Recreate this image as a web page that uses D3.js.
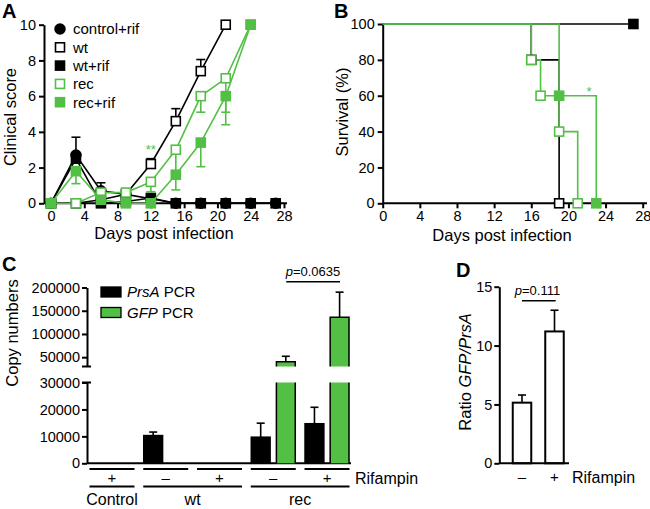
<!DOCTYPE html>
<html>
<head>
<meta charset="utf-8">
<script src="https://cdn.jsdelivr.net/npm/d3@7"></script>
<style>
body { margin: 0; background: #fff; }
svg { font-family: "Liberation Sans", Arial, Helvetica, sans-serif; }
</style>
</head>
<body>
<svg id="fig" width="650" height="509"></svg>
<script>
const GREEN = "#52bf45";

// ---- panel A : clinical score ----
const days = [0, 3, 6, 9, 12, 15, 18, 21, 24, 27];
const ctrlRif    = [0, 2.7, 0.7, 0.5, 0.25, 0, 0, 0, 0, 0];
const ctrlRifErr = [null, 3.7, 1.15, null, null, null, null, null, null, null];
const wt         = [0, 0, 0.2, 0.5, 2.2, 4.6, 7.4, 10];
const wtErr      = [null, null, null, null, 2.5, 5.3, 8.05, null];
const wtRif      = [0, 2.5, 0, 0.1, 0.3, 0, 0, 0, 0, 0];
const wtRifErr   = [null, null, null, null, 0.5, null, null, null, null, null];
const rec        = [0, 0, 0.6, 0.6, 1.2, 3.0, 6.0, 7.0, 10];
const recErr     = [null, null, null, null, 0.65, 1.7, 5.1, 5.1, null];
const recRif     = [0, 1.8, 0.2, 0, 0, 1.6, 3.4, 6.0, 10];
const recRifErr  = [null, 1.1, null, null, null, 0.75, 2.05, 4.4, null];
const scoreTicks = [0, 2, 4, 6, 8, 10];
const dayTicks = [0, 4, 8, 12, 16, 20, 24, 28];

// ---- panel B : survival (%) ----
const survRifDays = [0, 27],            survRif = [100, 100];
const survWtDays = [0, 16, 19],         survWt = [100, 80, 0];
const survRecDays = [0, 16, 17, 19, 21], survRec = [100, 80, 60, 40, 0];
const survRecRifDays = [0, 19, 23],     survRecRif = [100, 60, 0];
const survTicks = [0, 20, 40, 60, 80, 100];

// ---- panel C : copy numbers ----
const cRifampin = ["+", "–", "+", "–", "+"];
const cStrain = ["Control", "wt", "wt", "rec", "rec"];
const prsA    = [0, 10300, 0, 9700, 14700];
const prsAErr = [null, 11600, null, 14900, 20800];
const gfp     = [0, 0, 0, 40000, 136000];
const gfpErr  = [null, null, null, 52000, 190000];
const lowTicks = [0, 10000, 20000, 30000];
const highTicks = [50000, 100000, 150000, 200000];

// ---- panel D : ratio GFP/PrsA ----
const dRifampin = ["–", "+"];
const ratio = [5.15, 11.2];
const ratioErr = [5.8, 13.0];
const ratioTicks = [0, 5, 10, 15];

const svg = d3.select("#fig");

function styleAxis(g) {
    g.selectAll("path, line").attr("stroke", "#000").attr("stroke-width", 2);
    g.selectAll("text").attr("font-size", "14.5px").attr("fill", "#000")
        .attr("font-family", "Liberation Sans, Arial, sans-serif");
}

function panelLabel(t, x, y) {
    svg.append("text").text(t).attr("x", x).attr("y", y)
        .attr("font-size", "20px").attr("font-weight", "bold");
}

function marker(g, shape, filled, color, x, y) {
    if (shape === "circle") {
        g.append("circle").attr("cx", x).attr("cy", y).attr("r", 5)
            .attr("fill", filled ? color : "#fff").attr("stroke", color).attr("stroke-width", 1.5);
    } else {
        g.append("rect").attr("x", x - 4.5).attr("y", y - 4.5).attr("width", 9).attr("height", 9)
            .attr("fill", filled ? color : "#fff").attr("stroke", color).attr("stroke-width", 1.6);
    }
}

// =================== A ===================
panelLabel("A", 2, 18);
const xA = d3.scaleLinear().domain([0, 28]).range([51, 284]);
const yA = d3.scaleLinear().domain([0, 10]).range([203.3, 24.7]);

svg.append("g").attr("transform", "translate(44,0)")
    .call(d3.axisLeft(yA).tickValues(scoreTicks).tickSize(5).tickPadding(3).tickSizeOuter(0))
    .call(styleAxis);
const gxA = svg.append("g").attr("transform", "translate(0,203.3)")
    .call(d3.axisBottom(xA).tickValues(dayTicks).tickSize(5).tickPadding(2).tickSizeOuter(0))
    .call(styleAxis);
gxA.select(".domain").remove();
svg.append("line").attr("x1", 44).attr("x2", 287).attr("y1", 203.3).attr("y2", 203.3)
    .attr("stroke", "#000").attr("stroke-width", 2);

svg.append("text").text("Clinical score").attr("transform", "translate(10,117) rotate(-90)")
    .attr("text-anchor", "middle").attr("dy", "0.35em").attr("font-size", "16.5px");
svg.append("text").text("Days post infection").attr("x", 164).attr("y", 239)
    .attr("text-anchor", "middle").attr("font-size", "16.5px");

const seriesA = [
    { name: "control+rif", y: ctrlRif, err: ctrlRifErr, color: "#000", shape: "circle", filled: true },
    { name: "wt", y: wt, err: wtErr, color: "#000", shape: "square", filled: false },
    { name: "wt+rif", y: wtRif, err: wtRifErr, color: "#000", shape: "square", filled: true },
    { name: "rec", y: rec, err: recErr, color: GREEN, shape: "square", filled: false },
    { name: "rec+rif", y: recRif, err: recRifErr, color: GREEN, shape: "square", filled: true }
];

const lineA = d3.line().x(d => xA(d[0])).y(d => yA(d[1]));
seriesA.forEach(function(s) {
    const g = svg.append("g");
    const pts = s.y.map((v, i) => [days[i], v]);
    g.append("path").attr("d", lineA(pts)).attr("fill", "none")
        .attr("stroke", s.color).attr("stroke-width", 1.6);
    s.err.forEach(function(e, i) {
        if (e === null) return;
        const x = xA(days[i]);
        g.append("line").attr("x1", x).attr("x2", x).attr("y1", yA(s.y[i])).attr("y2", yA(e))
            .attr("stroke", s.color).attr("stroke-width", 1.6);
        g.append("line").attr("x1", x - 4.5).attr("x2", x + 4.5).attr("y1", yA(e)).attr("y2", yA(e))
            .attr("stroke", s.color).attr("stroke-width", 1.6);
    });
    pts.forEach(p => marker(g, s.shape, s.filled, s.color, xA(p[0]), yA(p[1])));
});

svg.append("text").text("**").attr("x", xA(12)).attr("y", yA(2.75)).attr("text-anchor", "middle")
    .attr("font-size", "13px").attr("fill", GREEN);

// legend A
const legA = svg.append("g");
seriesA.forEach(function(s, i) {
    const y = 29 + i * 18.3;
    marker(legA, s.shape, s.filled, s.color, 60, y);
    legA.append("text").text(s.name).attr("x", 73).attr("y", y).attr("dy", "0.36em")
        .attr("font-size", "15px");
});

// =================== B ===================
panelLabel("B", 334, 18);
const xB = d3.scaleLinear().domain([0, 28]).range([382.7, 642.7]);
const yB = d3.scaleLinear().domain([0, 100]).range([203.3, 24]);

svg.append("g").attr("transform", "translate(382.7,0)")
    .call(d3.axisLeft(yB).tickValues(survTicks).tickSize(5).tickPadding(3).tickSizeOuter(0))
    .call(styleAxis);
const gxB = svg.append("g").attr("transform", "translate(0,203.3)")
    .call(d3.axisBottom(xB).tickValues(dayTicks).tickSize(5).tickPadding(2).tickSizeOuter(0))
    .call(styleAxis);
gxB.select(".domain").remove();
svg.append("line").attr("x1", 382.7).attr("x2", 647).attr("y1", 203.3).attr("y2", 203.3)
    .attr("stroke", "#000").attr("stroke-width", 2);

svg.append("text").text("Survival (%)").attr("transform", "translate(342,112) rotate(-90)")
    .attr("text-anchor", "middle").attr("dy", "0.35em").attr("font-size", "16.5px");
svg.append("text").text("Days post infection").attr("x", 502).attr("y", 241)
    .attr("text-anchor", "middle").attr("font-size", "16.5px");

const seriesB = [
    { d: survRifDays, y: survRif, color: "#000", shape: "square", filled: true },
    { d: survWtDays, y: survWt, color: "#000", shape: "square", filled: false },
    { d: survRecDays, y: survRec, color: GREEN, shape: "square", filled: false },
    { d: survRecRifDays, y: survRecRif, color: GREEN, shape: "square", filled: true }
];
const lineB = d3.line().x(d => xB(d[0])).y(d => yB(d[1])).curve(d3.curveStepAfter);
seriesB.forEach(function(s) {
    const pts = s.d.map((v, i) => [v, s.y[i]]);
    svg.append("path").attr("d", lineB(pts)).attr("fill", "none")
        .attr("stroke", s.color).attr("stroke-width", 1.6);
});
seriesB.forEach(function(s) {
    const g = svg.append("g");
    s.d.forEach(function(v, i) {
        if (i === 0) return;
        marker(g, s.shape, s.filled, s.color, xB(v), yB(s.y[i]));
    });
});
svg.append("text").text("*").attr("x", 589).attr("y", 96).attr("text-anchor", "middle")
    .attr("font-size", "13px").attr("fill", GREEN);

// =================== C ===================
panelLabel("C", 2, 271);
const axC = 87;
const yLow = d3.scaleLinear().domain([0, 30000]).range([463.3, 382.5]);
const yHigh = d3.scaleLinear().domain([30000, 200000]).range([366.5, 287.5]);
const xC = d3.scaleBand().domain(d3.range(cRifampin.length)).range([85.1, 353.9]);
const inner = d3.scaleBand().domain(["prsA", "gfp"]).range([-22, 22]).paddingInner(0.25);
const cx = i => xC(i) + xC.bandwidth() / 2;

svg.append("g").attr("transform", "translate(" + axC + ",0)")
    .call(d3.axisLeft(yLow).tickValues(lowTicks).tickFormat(d3.format("d")).tickSize(5).tickPadding(2).tickSizeOuter(0))
    .call(styleAxis);
svg.append("g").attr("transform", "translate(" + axC + ",0)")
    .call(d3.axisLeft(yHigh).tickValues(highTicks).tickFormat(d3.format("d")).tickSize(5).tickPadding(2).tickSizeOuter(0))
    .call(styleAxis);
// break caps
[yLow(30000), yHigh(30000)].forEach(function(y) {
    svg.append("line").attr("x1", axC - 5).attr("x2", axC + 4).attr("y1", y).attr("y2", y)
        .attr("stroke", "#000").attr("stroke-width", 2);
});
svg.append("line").attr("x1", axC).attr("x2", 351).attr("y1", yLow(0)).attr("y2", yLow(0))
    .attr("stroke", "#000").attr("stroke-width", 2);

svg.append("text").text("Copy numbers").attr("transform", "translate(12,333) rotate(-90)")
    .attr("text-anchor", "middle").attr("dy", "0.35em").attr("font-size", "16.5px");

function drawBar(x, w, v, e, fill) {
    if (v <= 0) return;
    if (v <= 30000) {
        svg.append("rect").attr("x", x).attr("y", yLow(v)).attr("width", w)
            .attr("height", yLow(0) - yLow(v)).attr("fill", fill)
            .attr("stroke", "#000").attr("stroke-width", 1.5);
    } else {
        svg.append("rect").attr("x", x).attr("y", yLow(30000)).attr("width", w)
            .attr("height", yLow(0) - yLow(30000)).attr("fill", fill);
        svg.append("path").attr("d", "M" + x + "," + yLow(0) + "V" + yLow(30000) + "M" + (x + w) + "," + yLow(30000) + "V" + yLow(0))
            .attr("stroke", "#000").attr("stroke-width", 1.5).attr("fill", "none");
        svg.append("rect").attr("x", x).attr("y", yHigh(v)).attr("width", w)
            .attr("height", yHigh(30000) - yHigh(v)).attr("fill", fill);
        svg.append("path").attr("d", "M" + x + "," + yHigh(30000) + "V" + yHigh(v) + "H" + (x + w) + "V" + yHigh(30000))
            .attr("stroke", "#000").attr("stroke-width", 1.5).attr("fill", "none");
    }
    if (e !== null) {
        const y = v > 30000 ? yHigh : yLow;
        const mx = x + w / 2;
        svg.append("line").attr("x1", mx).attr("x2", mx).attr("y1", y(v)).attr("y2", y(e))
            .attr("stroke", "#000").attr("stroke-width", 1.6);
        svg.append("line").attr("x1", mx - 4).attr("x2", mx + 4).attr("y1", y(e)).attr("y2", y(e))
            .attr("stroke", "#000").attr("stroke-width", 1.6);
    }
}

cRifampin.forEach(function(r, i) {
    drawBar(cx(i) + inner("prsA"), inner.bandwidth(), prsA[i], prsAErr[i], "#000");
    drawBar(cx(i) + inner("gfp"), inner.bandwidth(), gfp[i], gfpErr[i], GREEN);
    svg.append("line").attr("x1", cx(i) - 22.5).attr("x2", cx(i) + 22.5).attr("y1", 469).attr("y2", 469)
        .attr("stroke", "#000").attr("stroke-width", 2);
    svg.append("text").text(r).attr("x", cx(i)).attr("y", 478).attr("dy", "0.36em")
        .attr("text-anchor", "middle").attr("font-size", "15px");
});

// strain labels under grouped lines
const strains = Array.from(new Set(cStrain));
strains.forEach(function(s) {
    const idx = d3.range(cStrain.length).filter(i => cStrain[i] === s);
    const x0 = cx(idx[0]) - 22.5, x1 = cx(idx[idx.length - 1]) + 22.5;
    svg.append("line").attr("x1", x0).attr("x2", x1).attr("y1", 486.5).attr("y2", 486.5)
        .attr("stroke", "#000").attr("stroke-width", 2);
    svg.append("text").text(s).attr("x", (x0 + x1) / 2).attr("y", 505)
        .attr("text-anchor", "middle").attr("font-size", "16px");
});
svg.append("text").text("Rifampin").attr("x", 355).attr("y", 478).attr("dy", "0.36em")
    .attr("font-size", "16px");

// legend C
const legC = [{ k: "PrsA", fill: "#000" }, { k: "GFP", fill: GREEN }];
legC.forEach(function(l, i) {
    const y = 292 + i * 20.5;
    svg.append("rect").attr("x", 101).attr("y", y - 5).attr("width", 20).attr("height", 10)
        .attr("fill", l.fill).attr("stroke", "#000").attr("stroke-width", 1.3);
    const t = svg.append("text").attr("x", 127).attr("y", y).attr("dy", "0.36em").attr("font-size", "15px");
    t.append("tspan").text(l.k).attr("font-style", "italic");
    t.append("tspan").text(" PCR");
});

// p-value bracket C
svg.append("line").attr("x1", cx(3) + 13).attr("x2", cx(4) + 13).attr("y1", 281.7).attr("y2", 281.7)
    .attr("stroke", "#000").attr("stroke-width", 1.6);
const pc = svg.append("text").attr("x", 313).attr("y", 276).attr("text-anchor", "middle").attr("font-size", "13px");
pc.append("tspan").text("p").attr("font-style", "italic");
pc.append("tspan").text("=0.0635");

// =================== D ===================
panelLabel("D", 456, 277);
const axD = 499.3;
const yD = d3.scaleLinear().domain([0, 15]).range([463.3, 286.7]);
const xD = d3.scalePoint().domain(dRifampin).range([522, 554.5]);
const bwD = 18.5;

svg.append("g").attr("transform", "translate(" + axD + ",0)")
    .call(d3.axisLeft(yD).tickValues(ratioTicks).tickSize(5).tickPadding(2).tickSizeOuter(0))
    .call(styleAxis);

dRifampin.forEach(function(r, i) {
    const x = xD(r) - bwD / 2;
    svg.append("rect").attr("x", x).attr("y", yD(ratio[i])).attr("width", bwD)
        .attr("height", yD(0) - yD(ratio[i])).attr("fill", "#fff")
        .attr("stroke", "#000").attr("stroke-width", 2);
    svg.append("line").attr("x1", xD(r)).attr("x2", xD(r)).attr("y1", yD(ratio[i])).attr("y2", yD(ratioErr[i]))
        .attr("stroke", "#000").attr("stroke-width", 1.6);
    svg.append("line").attr("x1", xD(r) - 4).attr("x2", xD(r) + 4).attr("y1", yD(ratioErr[i])).attr("y2", yD(ratioErr[i]))
        .attr("stroke", "#000").attr("stroke-width", 1.6);
    svg.append("text").text(r).attr("x", xD(r)).attr("y", 477).attr("dy", "0.36em")
        .attr("text-anchor", "middle").attr("font-size", "15px");
});
svg.append("line").attr("x1", axD).attr("x2", 569).attr("y1", yD(0)).attr("y2", yD(0))
    .attr("stroke", "#000").attr("stroke-width", 2);
svg.append("text").text("Rifampin").attr("x", 572).attr("y", 477).attr("dy", "0.36em")
    .attr("font-size", "16px");

const yl = svg.append("text").attr("transform", "translate(465,372) rotate(-90)")
    .attr("text-anchor", "middle").attr("dy", "0.35em").attr("font-size", "16.5px");
yl.append("tspan").text("Ratio ");
yl.append("tspan").text("GFP/PrsA").attr("font-style", "italic");

svg.append("line").attr("x1", 522).attr("x2", 555.7).attr("y1", 300.7).attr("y2", 300.7)
    .attr("stroke", "#000").attr("stroke-width", 1.6);
const pd = svg.append("text").attr("x", 537.5).attr("y", 295).attr("text-anchor", "middle").attr("font-size", "13px");
pd.append("tspan").text("p").attr("font-style", "italic");
pd.append("tspan").text("=0.111");
</script>
</body>
</html>
